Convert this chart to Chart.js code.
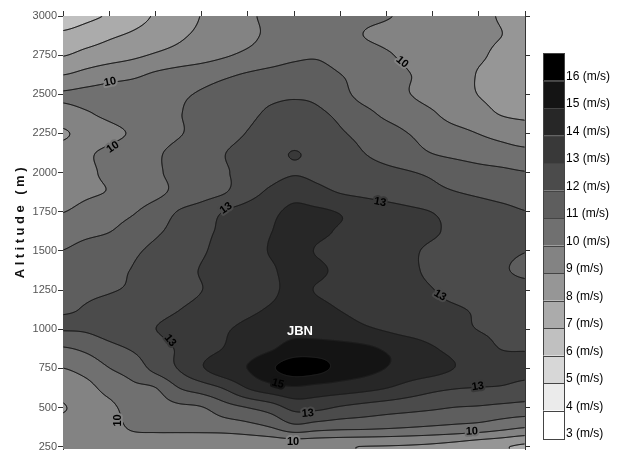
<!DOCTYPE html>
<html><head><meta charset="utf-8">
<script src="https://cdn.jsdelivr.net/npm/chart.js@4/dist/chart.umd.min.js"></script>
<style>html,body{margin:0;padding:0;background:#fff;overflow:hidden}canvas{display:block}</style>
</head><body>
<canvas id="c" width="618" height="450"></canvas>
<script>
// ---- data (wind speed, m/s) ----
const xPositions = [0,0.5,1,1.5,2,2.5,3,3.5,4,4.5,5,5.5,6,6.5,7,7.5,8,8.5,9,9.5,10];
const altitudes = [3000,2875,2750,2625,2500,2375,2250,2125,2000,1875,1750,1625,1500,1375,1250,1125,1000,875,750,625,500,375,250];
const yTickValues = [250,500,750,1000,1250,1500,1750,2000,2250,2500,2750,3000];
const xTickValues = [0,1,2,3,4,5,6,7,8,9,10];
const ws3000 = [6.5,6.8,7.1,7.6,8.1,8.6,9.03,9.4,9.85,10.2,10.45,10.5,10.4,10.2,10.05,9.85,9.6,9.4,9.15,8.95,8.8];
const ws2875 = [7.2,7.5,7.85,8.15,8.5,8.85,9.2,9.5,9.8,10.2,10.55,10.65,10.4,10.0,9.8,9.65,9.45,9.3,9.15,9.0,8.85];
const ws2750 = [7.95,8.3,8.55,8.8,9.1,9.35,9.6,9.9,10.2,10.5,10.8,10.9,10.6,10.4,10.1,9.8,9.55,9.35,9.1,8.85,8.7];
const ws2625 = [8.99,9.3,9.6,9.8,10.15,10.4,10.6,10.85,11.1,11.3,11.45,11.4,11.02,10.7,10.35,10.02,9.75,9.4,8.95,8.8,8.65];
const ws2500 = [10.1,10.25,10.4,10.55,10.7,10.85,11.1,11.35,11.6,11.8,11.9,11.8,11.3,10.7,10.4,10.02,9.7,9.4,8.98,8.85,8.75];
const ws2375 = [9.6,9.9,10.2,10.45,10.7,10.95,11.3,11.55,11.8,12.15,12.25,12.15,11.8,11.3,10.8,10.45,10.1,9.6,9.3,8.95,8.85];
const ws2250 = [8.9,9.35,9.75,10.1,10.5,10.92,11.3,11.65,12.05,12.45,12.6,12.45,12.1,11.75,11.4,10.98,10.6,10.3,9.98,9.7,9.45];
const ws2125 = [9.4,9.85,10.2,10.5,10.85,11.3,11.6,11.98,12.35,12.7,13.03,12.75,12.4,12.02,11.7,11.35,10.98,10.75,10.55,10.4,10.25];
const ws2000 = [9.5,9.8,10.2,10.5,10.85,11.3,11.6,11.92,12.3,12.65,12.93,12.75,12.5,12.35,12.2,12.05,11.85,11.6,11.35,11.2,11.05];
const ws1875 = [9.6,9.85,10.05,10.4,10.75,11.25,11.6,11.95,12.6,13.2,13.65,13.3,12.95,12.75,12.55,12.35,12.2,12.02,11.85,11.7,11.6];
const ws1750 = [9.98,10.3,10.6,10.9,11.45,12.05,12.45,13.05,13.4,13.8,14.2,14.15,13.95,13.7,13.45,13.2,12.98,12.65,12.4,12.2,12.02];
const ws1625 = [10.5,10.75,10.97,11.4,11.85,12.3,12.75,13.2,13.55,13.98,14.25,14.15,13.92,13.7,13.5,13.3,13.1,12.8,12.55,12.35,12.2];
const ws1500 = [11.02,11.35,11.6,11.85,12.2,12.5,12.9,13.3,13.65,14.05,14.25,13.95,13.7,13.5,13.3,13.12,12.85,12.6,12.4,12.2,12.02];
const ws1375 = [11.35,11.6,11.82,12.03,12.35,12.7,13.05,13.35,13.6,13.9,14.25,14.15,13.8,13.5,13.3,13.12,12.85,12.6,12.4,12.1,11.85];
const ws1250 = [11.7,11.85,11.95,12.1,12.4,12.7,12.99,13.3,13.55,13.85,14.2,13.95,13.7,13.45,13.3,13.2,13.02,12.75,12.55,12.4,12.3];
const ws1125 = [11.93,12.05,12.25,12.45,12.7,12.98,13.25,13.5,13.8,14.1,14.35,14.25,13.98,13.75,13.5,13.35,13.2,13.08,12.9,12.7,12.55];
const ws1000 = [12.05,12.1,12.4,12.7,12.99,13.3,13.6,13.9,14.25,14.55,14.7,14.6,14.4,14.15,13.9,13.6,13.4,13.2,12.98,12.88,12.8];
const ws875  = [10.9,11.19,11.69,12.09,12.6,13.1,13.6,14.05,14.5,14.9,15.4,15.45,15.35,15.2,14.9,14.6,14.1,13.7,13.3,12.98,12.95];
const ws750  = [9.99,10.36,10.98,11.41,12.3,13.05,13.9,14.6,15.02,15.85,16.5,16.35,15.7,15.35,14.98,14.6,14.35,13.97,13.6,13.45,13.35];
const ws625  = [9.4,9.7,10.35,10.8,10.98,11.98,12.5,13.1,14.05,14.6,14.87,14.65,14.5,14.3,14.02,13.6,13.25,13.05,12.97,12.9,12.65];
const ws500  = [8.95,9.4,9.75,10.45,10.6,10.8,10.95,11.6,12.02,12.5,13.3,13.25,12.9,12.65,12.45,12.3,12.15,11.98,11.9,11.75,11.65];
const ws375  = [9.3,9.35,9.55,10.15,10.25,10.3,10.35,10.45,10.65,11.02,11.7,11.45,11.3,11.25,11.15,11.03,10.9,10.77,10.63,10.34,10.06];
const ws250  = [9.2,9.2,9.3,9.35,9.3,9.2,9.1,9.1,9.15,9.15,9.1,9.1,9.05,8.98,8.95,8.9,8.8,8.6,8.3,8.1,7.8];
const speedRows = [ws3000,ws2875,ws2750,ws2625,ws2500,ws2375,ws2250,ws2125,ws2000,ws1875,ws1750,ws1625,ws1500,ws1375,ws1250,ws1125,ws1000,ws875,ws750,ws625,ws500,ws375,ws250];
const legendLevels = [16,15,14,13,12,11,10,9,8,7,6,5,4,3];
const contourLevels = [4,5,6,7,8,9,10,11,12,13,14,15,16];
const contourLabels = [
  {text:'10', u:1.02, alt:2578, rot:-12},
  {text:'10', u:1.08, alt:2162, rot:-35},
  {text:'10', u:7.34, alt:2706, rot:40},
  {text:'13', u:3.53, alt:1772, rot:-35},
  {text:'13', u:6.86, alt:1811, rot:10},
  {text:'13', u:8.16, alt:1216, rot:30},
  {text:'13', u:2.32, alt:928, rot:50},
  {text:'15', u:4.65, alt:653, rot:15},
  {text:'13', u:5.30, alt:462, rot:-5},
  {text:'13', u:8.98, alt:634, rot:-8},
  {text:'10', u:1.19, alt:417, rot:-90},
  {text:'10', u:4.98, alt:283, rot:0},
  {text:'10', u:8.85, alt:347, rot:-3}
];
const coreLabel = {text:'JBN', u:5.13, alt:985};

// ---- styles ----
const bandGray = {3:255,4:235,5:215,6:192,7:171,8:150,9:131,10:112,11:94,12:75,13:57,14:39,15:20,16:0};
function grayOf(v){ let b=Math.floor(v); if(b<3)b=3; if(b>16)b=16; return bandGray[b]; }

// ---- dataset built from the arrays ----
const gridPoints = [];
speedRows.forEach((row,j)=>row.forEach((v,i)=>gridPoints.push({x:xPositions[i], y:altitudes[j], v})));

function cr(p0,p1,p2,p3,t){ return p1 + 0.5*t*(p2-p0 + t*(2*p0-5*p1+4*p2-p3 + t*(3*(p1-p2)+p3-p0))); }

const contourPlugin = {
  id:'contour',
  beforeDatasetsDraw(chart){
    const {ctx, chartArea:a, scales:{x, y}} = chart;
    const data = chart.data.datasets[0].data;
    const nx = xPositions.length, ny = altitudes.length;
    const grid = [];
    for(let j=0;j<ny;j++){ grid.push([]); for(let i=0;i<nx;i++) grid[j].push(data[j*nx+i].v); }
    const dx = xPositions[1]-xPositions[0], dy = altitudes[0]-altitudes[1];
    const gv = (j,i)=>grid[Math.max(0,Math.min(ny-1,j))][Math.max(0,Math.min(nx-1,i))];
    function sample(u, alt){
      let fx=(u-xPositions[0])/dx, fy=(altitudes[0]-alt)/dy;
      fx=Math.max(0,Math.min(nx-1,fx)); fy=Math.max(0,Math.min(ny-1,fy));
      const ix=Math.min(nx-2,Math.floor(fx)), iy=Math.min(ny-2,Math.floor(fy));
      const tx=fx-ix, ty=fy-iy; const c=[];
      for(let k=-1;k<=2;k++) c.push(cr(gv(iy+k,ix-1),gv(iy+k,ix),gv(iy+k,ix+1),gv(iy+k,ix+2),tx));
      return cr(c[0],c[1],c[2],c[3],ty);
    }
    const L=Math.round(a.left), T=Math.round(a.top), W=Math.round(a.right)-L, H=Math.round(a.bottom)-T;
    const F=new Float32Array(W*H);
    for(let j=0;j<H;j++){ const alt=y.getValueForPixel(T+j+0.5);
      for(let i=0;i<W;i++){ F[j*W+i]=sample(x.getValueForPixel(L+i+0.5), alt); } }
    const off=document.createElement('canvas'); off.width=W; off.height=H;
    const octx=off.getContext('2d'); const img=octx.createImageData(W,H);
    for(let k=0;k<W*H;k++){ const g=grayOf(F[k]); img.data[4*k]=g; img.data[4*k+1]=g; img.data[4*k+2]=g; img.data[4*k+3]=255; }
    octx.putImageData(img,0,0);
    ctx.save();
    ctx.beginPath(); ctx.rect(a.left,a.top,a.right-a.left,a.bottom-a.top); ctx.clip();
    ctx.drawImage(off,L,T);
    // contour lines (marching squares)
    const table={1:[[3,2]],2:[[2,1]],3:[[3,1]],4:[[0,1]],5:[[0,1],[3,2]],6:[[0,2]],7:[[0,3]],8:[[0,3]],9:[[0,2]],10:[[0,3],[1,2]],11:[[0,1]],12:[[3,1]],13:[[1,2]],14:[[3,2]]};
    ctx.strokeStyle='#1c1c1c'; ctx.lineWidth=0.85; ctx.lineCap='round';
    for(const lv of contourLevels){
      ctx.beginPath();
      for(let j=0;j<H-1;j++) for(let i=0;i<W-1;i++){
        const p=F[j*W+i], q=F[j*W+i+1], r=F[(j+1)*W+i+1], s=F[(j+1)*W+i];
        const idx=(p>=lv?8:0)|(q>=lv?4:0)|(r>=lv?2:0)|(s>=lv?1:0);
        if(idx===0||idx===15) continue;
        const ex=(e)=>{
          if(e===0) return [i+(lv-p)/(q-p), j];
          if(e===1) return [i+1, j+(lv-q)/(r-q)];
          if(e===2) return [i+(lv-s)/(r-s), j+1];
          return [i, j+(lv-p)/(s-p)];
        };
        for(const seg of table[idx]){
          const A=ex(seg[0]), B=ex(seg[1]);
          ctx.moveTo(L+A[0]+0.5, T+A[1]+0.5); ctx.lineTo(L+B[0]+0.5, T+B[1]+0.5);
        }
      }
      ctx.stroke();
    }
    // contour labels
    ctx.font='bold 11px "Liberation Sans", Arial, sans-serif';
    ctx.textAlign='center'; ctx.textBaseline='middle';
    for(const lb of contourLabels){
      const px=x.getPixelForValue(lb.u), py=y.getPixelForValue(lb.alt);
      const g=grayOf(sample(lb.u, lb.alt));
      ctx.save(); ctx.translate(px,py); ctx.rotate(lb.rot*Math.PI/180);
      ctx.lineWidth=4; ctx.lineJoin='round'; ctx.strokeStyle=`rgb(${g},${g},${g})`;
      ctx.strokeText(lb.text,0,0);
      ctx.fillStyle='#000'; ctx.fillText(lb.text,0,0);
      ctx.restore();
    }
    ctx.font='bold 13px "Liberation Sans", Arial, sans-serif';
    ctx.fillStyle='#fff';
    ctx.fillText(coreLabel.text, x.getPixelForValue(coreLabel.u), y.getPixelForValue(coreLabel.alt));
    ctx.restore();
  },
  afterDraw(chart){
    const {ctx, chartArea:a, scales:{y}} = chart;
    ctx.save();
    // axis title
    ctx.translate(20, y.getPixelForValue(1690));
    ctx.rotate(-Math.PI/2);
    ctx.font='bold 13px "Liberation Sans", Arial, sans-serif';
    try{ ctx.letterSpacing='3.5px'; }catch(e){}
    ctx.fillStyle='#111'; ctx.textAlign='center'; ctx.textBaseline='middle';
    ctx.fillText('Altitude (m)',0,0);
    ctx.restore();
    // colour bar legend
    ctx.save();
    const bx=a.right+18, bw=21, by=53, bh=27.5;
    ctx.font='12px "Liberation Sans", Arial, sans-serif';
    ctx.textAlign='left'; ctx.textBaseline='middle';
    legendLevels.forEach((lv,k)=>{
      const g=bandGray[lv];
      ctx.fillStyle=`rgb(${g},${g},${g})`;
      ctx.fillRect(bx, by+k*bh, bw, bh);
      ctx.strokeStyle='#444'; ctx.lineWidth=1;
      ctx.strokeRect(bx+0.5, Math.round(by+k*bh)+0.5, bw, Math.round(bh));
      ctx.fillStyle='#000';
      ctx.fillText(lv+' (m/s)', bx+bw+2, by+(k+1)*bh-4);
    });
    ctx.restore();
  }
};

const zeroPad = (s)=>{ s.paddingTop=0; s.paddingBottom=0; s.paddingLeft=0; s.paddingRight=0; };

new Chart(document.getElementById('c'), {
  type:'scatter',
  data:{ datasets:[{ data:gridPoints, pointRadius:0, pointHoverRadius:0, showLine:false }] },
  options:{
    responsive:false, animation:false, events:[],
    layout:{ padding:{ left:0, top:0, right:87, bottom:1 } },
    plugins:{ legend:{display:false}, tooltip:{enabled:false} },
    scales:{
      x:{ type:'linear', position:'top', min:0, max:10,
          ticks:{ display:false },
          afterBuildTicks:(s)=>{ s.ticks = xTickValues.map(v=>({value:v})); },
          grid:{ drawOnChartArea:false, drawTicks:true, tickLength:5, color:'#333' },
          border:{ color:'#333' },
          afterFit:(s)=>{ s.height=16; zeroPad(s); } },
      y:{ type:'linear', position:'left', min:235, max:3000,
          afterBuildTicks:(s)=>{ s.ticks = yTickValues.map(v=>({value:v})); },
          ticks:{ color:'#555', padding:1, callback:(v)=>String(v),
                  font:{ family:'"Liberation Sans", Arial, sans-serif', size:11 } },
          grid:{ drawOnChartArea:false, drawTicks:true, tickLength:5, color:'#333' },
          border:{ color:'#333' },
          afterFit:(s)=>{ s.width=63; zeroPad(s); } },
      y2:{ type:'linear', position:'right', min:235, max:3000,
          afterBuildTicks:(s)=>{ s.ticks = yTickValues.map(v=>({value:v})); },
          ticks:{ display:false },
          grid:{ drawOnChartArea:false, drawTicks:true, tickLength:5, color:'#333' },
          border:{ color:'#333' },
          afterFit:(s)=>{ s.width=6; zeroPad(s); } }
    }
  },
  plugins:[contourPlugin]
});
</script>
</body></html>
